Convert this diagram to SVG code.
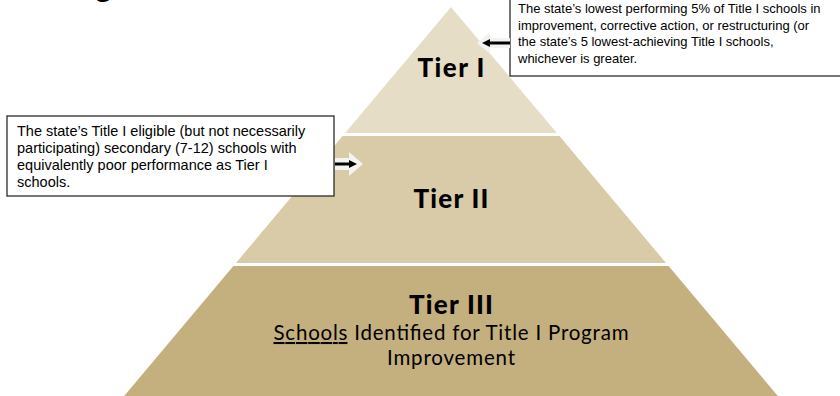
<svg xmlns="http://www.w3.org/2000/svg" width="840" height="396" viewBox="0 0 840 396">
  <style>
    .tier { font-family: Lato, "Open Sans", "Liberation Sans", sans-serif; font-weight: 900; font-size: 26px; fill: #000; text-anchor: middle; }
    .sub { font-family: Lato, "Open Sans", "Liberation Sans", sans-serif; font-weight: 400; font-size: 20.5px; fill: #000; text-anchor: middle; }
    .note { font-family: "Liberation Sans", Arial, sans-serif; fill: #000; }
    .box { fill: #ffffff; stroke: #2b2b2b; stroke-width: 1.3; }
    .halo { fill: #f3f3f1; }
    .shaft { stroke: #000; stroke-width: 3; fill: none; }
  </style>
  <rect width="840" height="396" fill="#ffffff"/>
  <text x="95" y="-4" style="font-family: Lato, 'Liberation Sans', sans-serif; font-size: 32px;" fill="#000">g</text>

  <g id="tier3">
    <polygon points="233.4,266 668.6,266 781.2,400 120.8,400" fill="#c4af7e"/>
    <text class="tier" x="451" y="314" textLength="84">Tier III</text>
    <text class="sub" x="451" y="340" textLength="355"><tspan text-decoration="underline">Schools</tspan> Identified for Title I Program</text>
    <text class="sub" x="451" y="365" textLength="128">Improvement</text>
  </g>
  <g id="tier2">
    <polygon points="342.6,136 559.4,136 666,263 236,263" fill="#d9caa8"/>
    <text class="tier" x="451" y="208" textLength="75">Tier II</text>
  </g>
  <g id="tier1">
    <polygon points="451,7 556.8,133 345.2,133" fill="#e6ddc6"/>
    <text class="tier" x="451" y="77" textLength="67">Tier I</text>
  </g>

  <g id="callout1">
    <rect class="box" x="510" y="-2" width="340" height="78"/>
    <text class="note" font-size="13">
      <tspan x="518" y="13">The state’s lowest performing 5% of Title I schools in</tspan>
      <tspan x="518" y="29.5">improvement, corrective action, or restructuring (or</tspan>
      <tspan x="518" y="46">the state’s 5 lowest-achieving Title I schools,</tspan>
      <tspan x="518" y="62.5">whichever is greater.</tspan>
    </text>
  </g>
  <g id="callout2">
    <rect class="box" x="7" y="116" width="327" height="80"/>
    <text class="note" font-size="14.5">
      <tspan x="17" y="136">The state’s Title I eligible (but not necessarily</tspan>
      <tspan x="17" y="153">participating) secondary (7-12) schools with</tspan>
      <tspan x="17" y="170">equivalently poor performance as Tier I</tspan>
      <tspan x="17" y="187">schools.</tspan>
    </text>
  </g>

  <g id="connectors">
    <polygon class="halo" points="510,38 490,38 490,32 477,43 490,54 490,48 510,48"/>
    <line class="shaft" x1="510" y1="43" x2="489" y2="43"/>
    <polygon points="482,43 490,39 490,47" fill="#000"/>

    <polygon class="halo" points="335,158 349,158 349,152 363,164 349,176 349,170 335,170"/>
    <line class="shaft" x1="335" y1="164" x2="350" y2="164"/>
    <polygon points="357,164 349,160 349,168" fill="#000"/>
  </g>
</svg>
